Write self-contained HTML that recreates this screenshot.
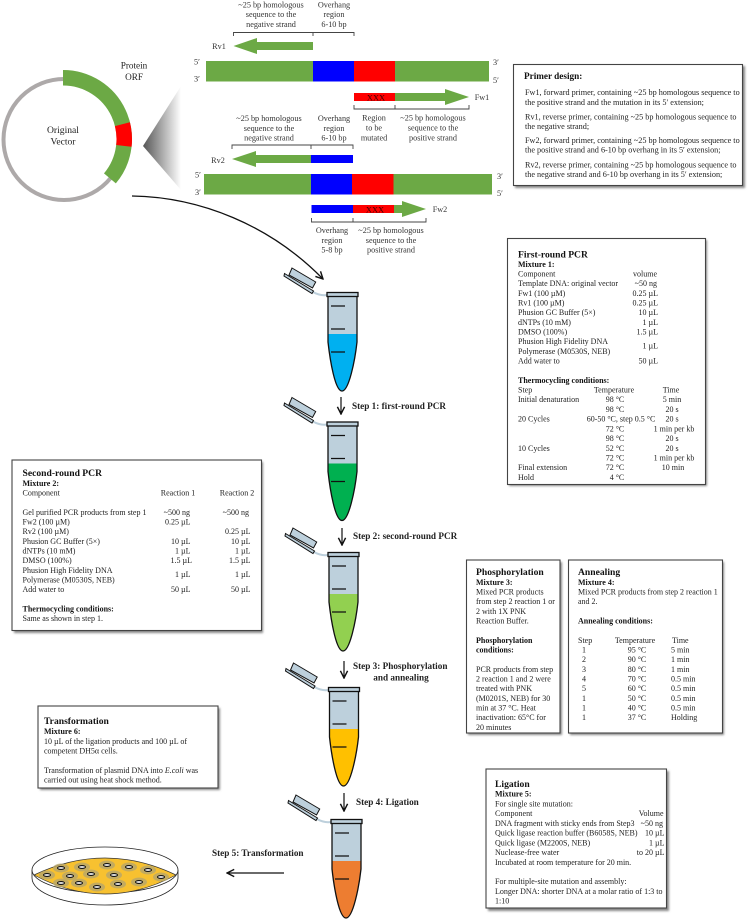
<!DOCTYPE html>
<html><head><meta charset="utf-8">
<style>
html,body{margin:0;padding:0;background:#fff;width:750px;height:920px;overflow:hidden}
svg{display:block}
text{font-family:"Liberation Serif",serif;font-size:8px;fill:#222}
.b{font-weight:bold;fill:#111}
.h{font-weight:bold;font-size:9.6px;fill:#111}
.s{font-weight:bold;font-size:9.2px;fill:#222}
.m{text-anchor:middle}
.e{text-anchor:end}
.l{font-size:8.2px;fill:#333}
.c{font-size:8.2px;fill:#333;text-anchor:middle}
.p{font-size:8.2px}
.br{fill:none;stroke:#444;stroke-width:.9}
.box{fill:#fff;stroke:#444;stroke-width:1.1}
.sh{fill:#888;filter:url(#bl)}
</style></head><body>
<svg width="750" height="920" viewBox="0 0 750 920" xmlns="http://www.w3.org/2000/svg">
<defs>
<filter id="bl" x="-10%" y="-10%" width="120%" height="120%"><feGaussianBlur stdDeviation="1"/></filter>
<linearGradient id="cone" x1="0" x2="1" y1="0" y2="0"><stop offset="0" stop-color="#555"/><stop offset="1" stop-color="#fff"/></linearGradient>
<clipPath id="tc"><path d="M328 297L328 342C330 360 335 391 342 391C349 391 355 360 357 342L357 297Z"/></clipPath>
<g id="tube">
<path d="M313 292Q320 296 327 295" fill="none" stroke="#BDD0DC" stroke-width="2"/>
<polygon points="292,268 315.7,282 312.5,288 289,275" fill="#BDD0DC" stroke="#111" stroke-width="1"/>
<polygon points="284.5,273.5 313.5,291 312,293.5 284,276" fill="#BDD0DC" stroke="#111" stroke-width="1"/>
<path d="M328 297L328 342C330 360 335 391 342 391C349 391 355 360 357 342L357 297Z" fill="#BDD0DC"/>
</g>
<g id="tubetop">
<path d="M331 306H345M331 329H345M331 352H345" stroke="#111" stroke-width="1.2" fill="none"/>
<path d="M328 297L328 342C330 360 335 391 342 391C349 391 355 360 357 342L357 297" fill="none" stroke="#111" stroke-width="1.3"/>
<rect x="327" y="292.5" width="31" height="4" fill="#BDD0DC" stroke="#111" stroke-width="1.3"/>
</g>
<marker id="ah" viewBox="0 0 10 10" refX="9" refY="5" markerWidth="9" markerHeight="9" orient="auto" markerUnits="userSpaceOnUse"><path d="M1 1L9 5L1 9" fill="none" stroke="#111" stroke-width="1.6"/></marker>
</defs>

<!-- plasmid -->
<circle cx="64" cy="139.5" r="60.5" fill="none" stroke="#ADA9A9" stroke-width="4"/>
<path d="M63 77.75A61.25 61.25 0 0 1 109.9 178.4" fill="none" stroke="#6CA945" stroke-width="15.5"/>
<path d="M122.4 124.2A61.25 61.25 0 0 1 123.9 145.9" fill="none" stroke="#FF0000" stroke-width="15.5"/>
<text x="134" y="68.5" style="font-size:9.2px" class="m">Protein</text>
<text x="134" y="80" style="font-size:9.2px" class="m">ORF</text>
<text x="63" y="133" style="font-size:9.6px" class="m">Original</text>
<text x="63" y="144.5" style="font-size:9.6px" class="m">Vector</text>
<polygon points="143,146 181,86 181,190" fill="url(#cone)"/>
<path d="M132 196C200 197 270 225 323 279" fill="none" stroke="#111" stroke-width="1.3" marker-end="url(#ah)"/>

<!-- strand 1 -->
<rect x="206" y="61" width="283" height="20.5" fill="#6CA945"/>
<rect x="313" y="61" width="41" height="20.5" fill="#0000FF"/>
<rect x="354" y="61" width="41" height="20.5" fill="#FF0000"/>
<text class="l" x="194" y="64.5">5′</text><text class="l" x="194" y="81.5">3′</text>
<text class="l" x="493" y="65">3′</text><text class="l" x="493" y="83">5′</text>
<polygon points="233.5,46 257,38 257,42 313,42 313,50 257,50 257,54" fill="#6CA945"/>
<text class="c" x="219" y="49">Rv1</text>
<path class="br" d="M233.5 36V32.5H354V36M313 32.5V36"/>
<text class="c" x="271" y="7.5">~25 bp homologous</text>
<text class="c" x="271" y="17">sequence to the</text>
<text class="c" x="271" y="27">negative strand</text>
<text class="c" x="334" y="7.5">Overhang</text>
<text class="c" x="334" y="17">region</text>
<text class="c" x="334" y="27">6-10 bp</text>
<rect x="354" y="93" width="41" height="8" fill="#FF0000"/>
<text class="m" x="376" y="100.5" style="fill:#400000;font-size:8.4px">XXX</text>
<polygon points="395,93 445,93 445,89 469,97 445,105 445,101 395,101" fill="#6CA945"/>
<text class="c" x="482" y="100">Fw1</text>
<path class="br" d="M354 105V109H469V105M395 109V105"/>
<text class="c" x="374" y="120.5">Region</text>
<text class="c" x="374" y="130.5">to be</text>
<text class="c" x="374" y="140.5">mutated</text>
<text class="c" x="433" y="120.5">~25 bp homologous</text>
<text class="c" x="433" y="130.5">sequence to the</text>
<text class="c" x="433" y="140.5">positive strand</text>

<!-- strand 2 -->
<text class="c" x="269" y="121">~25 bp homologous</text>
<text class="c" x="269" y="131">sequence to the</text>
<text class="c" x="269" y="140.5">negative strand</text>
<text class="c" x="334" y="121">Overhang</text>
<text class="c" x="334" y="131">region</text>
<text class="c" x="334" y="140.5">6-10 bp</text>
<path class="br" d="M232 149V145H353V149M311 145V149"/>
<polygon points="232,159 256,151 256,155 311,155 311,163 256,163 256,167" fill="#6CA945"/>
<rect x="311" y="155" width="42" height="8" fill="#0000FF"/>
<text class="c" x="218" y="163">Rv2</text>
<rect x="204" y="174" width="288" height="20.5" fill="#6CA945"/>
<rect x="311" y="174" width="41" height="20.5" fill="#0000FF"/>
<rect x="352" y="174" width="41.5" height="20.5" fill="#FF0000"/>
<text class="l" x="195" y="177.5">5′</text><text class="l" x="195" y="195">3′</text>
<text class="l" x="497" y="179">3′</text><text class="l" x="497" y="196">5′</text>
<rect x="311.5" y="205" width="41.5" height="8" fill="#0000FF"/>
<rect x="353" y="205" width="41" height="8" fill="#FF0000"/>
<text class="m" x="375" y="212.5" style="fill:#400000;font-size:8.4px">XXX</text>
<polygon points="394,205 402,205 402,201 426,209 402,217 402,213 394,213" fill="#6CA945"/>
<text class="c" x="440" y="212">Fw2</text>
<path class="br" d="M311.5 218V222H426V218M353 222V218"/>
<text class="c" x="332" y="233">Overhang</text>
<text class="c" x="332" y="243">region</text>
<text class="c" x="332" y="252.5">5-8 bp</text>
<text class="c" x="391" y="233">~25 bp homologous</text>
<text class="c" x="391" y="243">sequence to the</text>
<text class="c" x="391" y="252.5">positive strand</text>

<!-- primer box -->
<rect class="sh" x="515" y="66" width="230" height="122"/>
<rect class="box" x="513.5" y="64.5" width="229" height="121"/>
<text class="h" x="524" y="79" style="font-size:9.2px">Primer design:</text>
<text class="p" x="525" y="95">Fw1, forward primer, containing ~25 bp homologous sequence to</text>
<text class="p" x="525" y="105">the positive strand and the mutation in its 5′ extension;</text>
<text class="p" x="525" y="119.5">Rv1, reverse primer, containing ~25 bp homologous sequence to</text>
<text class="p" x="525" y="129">the negative strand;</text>
<text class="p" x="525" y="143">Fw2, forward primer, containing ~25 bp homologous sequence to</text>
<text class="p" x="525" y="152.5">the positive strand and 6-10 bp overhang in its 5′ extension;</text>
<text class="p" x="525" y="167.5">Rv2, reverse primer, containing ~25 bp homologous sequence to</text>
<text class="p" x="525" y="177">the negative strand and 6-10 bp overhang in its 5′ extension;</text>

<!-- first round -->
<rect class="sh" x="509" y="240" width="198" height="246"/>
<rect class="box" x="507.5" y="238.5" width="198" height="246"/>
<text class="h" x="518" y="257.5">First-round PCR</text>
<text class="b" x="518" y="266.8">Mixture 1:</text>
<text x="518" y="276.5">Component</text><text class="e" x="657" y="276.5">volume</text>
<text x="518" y="286.2">Template DNA: original vector</text><text class="e" x="657" y="286.2">~50 ng</text>
<text x="518" y="295.8">Fw1 (100 µM)</text><text class="e" x="658" y="295.8">0.25 µL</text>
<text x="518" y="305.5">Rv1 (100 µM)</text><text class="e" x="658" y="305.5">0.25 µL</text>
<text x="518" y="315.2">Phusion GC Buffer (5×)</text><text class="e" x="658" y="315.2">10 µL</text>
<text x="518" y="324.8">dNTPs (10 mM)</text><text class="e" x="658" y="324.8">1 µL</text>
<text x="518" y="334.5">DMSO (100%)</text><text class="e" x="658" y="334.5">1.5 µL</text>
<text x="518" y="344.2">Phusion High Fidelity DNA</text>
<text x="518" y="353.8">Polymerase (M0530S, NEB)</text><text class="e" x="658" y="348.5">1 µL</text>
<text x="518" y="363.5">Add water to</text><text class="e" x="658" y="363.5">50 µL</text>
<text class="b" x="518" y="382.8">Thermocycling conditions:</text>
<text x="518" y="392.5">Step</text><text class="m" x="614" y="392.5">Temperature</text><text class="m" x="671" y="392.5">Time</text>
<text x="518" y="402.2">Initial denaturation</text><text class="m" x="615" y="402.2">98 °C</text><text class="m" x="672" y="402.2">5 min</text>
<text class="m" x="615" y="411.8">98 °C</text><text class="m" x="672" y="411.8">20 s</text>
<text x="518" y="421.5">20 Cycles</text><text class="m" x="621" y="421.5">60-50 °C, step 0.5 °C</text><text class="m" x="672" y="421.5">20 s</text>
<text class="m" x="615" y="431.5">72 °C</text><text class="m" x="674" y="431.5">1 min per kb</text>
<text class="m" x="615" y="441.2">98 °C</text><text class="m" x="672" y="441.2">20 s</text>
<text x="518" y="450.8">10 Cycles</text><text class="m" x="615" y="450.8">52 °C</text><text class="m" x="672" y="450.8">20 s</text>
<text class="m" x="615" y="460.5">72 °C</text><text class="m" x="674" y="460.5">1 min per kb</text>
<text x="518" y="470.2">Final extension</text><text class="m" x="615" y="470.2">72 °C</text><text class="m" x="673" y="470.2">10 min</text>
<text x="518" y="479.8">Hold</text><text class="m" x="617" y="479.8">4 °C</text>

<!-- second round -->
<rect class="sh" x="14" y="462" width="249" height="171"/>
<rect class="box" x="12" y="460" width="249.5" height="170.5"/>
<text class="h" x="22.5" y="476">Second-round PCR</text>
<text class="b" x="22.5" y="485.8">Mixture 2:</text>
<text x="22.5" y="495.5">Component</text><text class="m" x="178" y="495.5">Reaction 1</text><text class="m" x="237" y="495.5">Reaction 2</text>
<text x="22.5" y="514.8">Gel purified PCR products from step 1</text><text class="e" x="190" y="514.8">~500 ng</text><text class="e" x="249" y="514.8">~500 ng</text>
<text x="22.5" y="524.5">Fw2 (100 µM)</text><text class="e" x="190.5" y="524.5">0.25 µL</text>
<text x="22.5" y="534.2">Rv2 (100 µM)</text><text class="e" x="250.5" y="534.2">0.25 µL</text>
<text x="22.5" y="543.8">Phusion GC Buffer (5×)</text><text class="e" x="190.5" y="543.8">10 µL</text><text class="e" x="250.5" y="543.8">10 µL</text>
<text x="22.5" y="553.5">dNTPs (10 mM)</text><text class="e" x="190.5" y="553.5">1 µL</text><text class="e" x="250.5" y="553.5">1 µL</text>
<text x="22.5" y="562.8">DMSO (100%)</text><text class="e" x="192" y="562.8">1.5 µL</text><text class="e" x="250.5" y="562.8">1.5 µL</text>
<text x="22.5" y="572.8">Phusion High Fidelity DNA</text>
<text x="22.5" y="582.5">Polymerase (M0530S, NEB)</text><text class="e" x="190.5" y="576.8">1 µL</text><text class="e" x="250.5" y="576.8">1 µL</text>
<text x="22.5" y="592.2">Add water to</text><text class="e" x="190.5" y="592.2">50 µL</text><text class="e" x="250.5" y="592.2">50 µL</text>
<text class="b" x="22.5" y="611.5">Thermocycling conditions:</text>
<text x="22.5" y="621.2">Same as shown in step 1.</text>

<!-- phosphorylation -->
<rect class="sh" x="468" y="562" width="94" height="173"/>
<rect class="box" x="466.5" y="560" width="93.5" height="173"/>
<text class="h" x="476" y="575.2">Phosphorylation</text>
<text class="b" x="476" y="584.8">Mixture 3:</text>
<text x="476" y="594.5">Mixed PCR products</text>
<text x="476" y="604.2">from step 2 reaction 1 or</text>
<text x="476" y="613.8">2 with 1X PNK</text>
<text x="476" y="623.5">Reaction Buffer.</text>
<text class="b" x="476" y="642.8">Phosphorylation</text>
<text class="b" x="476" y="652.5">conditions:</text>
<text x="476" y="671.8">PCR products from step</text>
<text x="476" y="681.5">2 reaction 1 and 2 were</text>
<text x="476" y="691.2">treated with PNK</text>
<text x="476" y="700.8">(M0201S, NEB) for 30</text>
<text x="476" y="710.5">min at 37 °C. Heat</text>
<text x="476" y="720.2">inactivation: 65°C for</text>
<text x="476" y="729.8">20 minutes</text>

<!-- annealing -->
<rect class="sh" x="570" y="562" width="154" height="173"/>
<rect class="box" x="568.5" y="560" width="154" height="173"/>
<text class="h" x="578" y="575.2">Annealing</text>
<text class="b" x="578" y="584.8">Mixture 4:</text>
<text x="578" y="594.5">Mixed PCR products from step 2 reaction 1</text>
<text x="578" y="604.2">and 2.</text>
<text class="b" x="578" y="623.5">Annealing conditions:</text>
<text x="578" y="642.8">Step</text><text class="m" x="635" y="642.8">Temperature</text><text x="672" y="642.8">Time</text>
<text x="582" y="652.5">1</text><text class="m" x="637" y="652.5">95 °C</text><text x="671" y="652.5">5 min</text>
<text x="582" y="662.2">2</text><text class="m" x="637" y="662.2">90 °C</text><text x="671" y="662.2">1 min</text>
<text x="582" y="671.8">3</text><text class="m" x="637" y="671.8">80 °C</text><text x="671" y="671.8">1 min</text>
<text x="582" y="681.5">4</text><text class="m" x="637" y="681.5">70 °C</text><text x="671" y="681.5">0.5 min</text>
<text x="582" y="691.2">5</text><text class="m" x="637" y="691.2">60 °C</text><text x="671" y="691.2">0.5 min</text>
<text x="582" y="700.8">1</text><text class="m" x="637" y="700.8">50 °C</text><text x="671" y="700.8">0.5 min</text>
<text x="582" y="710.5">1</text><text class="m" x="637" y="710.5">40 °C</text><text x="671" y="710.5">0.5 min</text>
<text x="582" y="720.2">1</text><text class="m" x="637" y="720.2">37 °C</text><text x="671" y="720.2">Holding</text>

<!-- ligation -->
<rect class="sh" x="488" y="771" width="181" height="140"/>
<rect class="box" x="486" y="769" width="180.5" height="139"/>
<text class="h" x="495" y="787">Ligation</text>
<text class="b" x="495" y="796.5">Mixture 5:</text>
<text x="495" y="806.5">For single site mutation:</text>
<text x="495" y="816.2">Component</text><text class="e" x="663.5" y="816.2">Volume</text>
<text x="495" y="825.8">DNA fragment with sticky ends from Step3</text><text class="e" x="663" y="825.8">~50 ng</text>
<text x="495" y="835.5">Quick ligase reaction buffer (B6058S, NEB)</text><text class="e" x="664.5" y="835.5">10 µL</text>
<text x="495" y="845.5">Quick ligase (M2200S, NEB)</text><text class="e" x="664.5" y="845.5">1 µL</text>
<text x="495" y="855.2">Nuclease-free water</text><text class="e" x="664.5" y="855.2">to 20 µL</text>
<text x="495" y="864.8">Incubated at room temperature for 20 min.</text>
<text x="495" y="884.2">For multiple-site mutation and assembly:</text>
<text x="495" y="893.8">Longer DNA: shorter DNA at a molar ratio of 1:3 to</text>
<text x="495" y="903.5">1:10</text>

<!-- transformation -->
<rect class="sh" x="40" y="708" width="180" height="82"/>
<rect class="box" x="38" y="706" width="180" height="82"/>
<text class="h" x="44" y="724">Transformation</text>
<text class="b" x="44" y="734.2">Mixture 6:</text>
<text x="44" y="743.8">10 µL of the ligation products and 100 µL of</text>
<text x="44" y="753.5">competent DH5α cells.</text>
<text x="44" y="772.8">Transformation of plasmid DNA into <tspan font-style="italic">E.coli</tspan> was</text>
<text x="44" y="782.5">carried out using heat shock method.</text>

<!-- tubes -->
<g transform="translate(0,0)"><use href="#tube"/><rect x="320" y="334" width="45" height="60" fill="#00B0F0" clip-path="url(#tc)"/><use href="#tubetop"/></g>
<g transform="translate(0,129.5)"><use href="#tube"/><rect x="320" y="334" width="45" height="60" fill="#00B050" clip-path="url(#tc)"/><use href="#tubetop"/></g>
<g transform="translate(1,260)"><use href="#tube"/><rect x="320" y="334" width="45" height="60" fill="#92D050" clip-path="url(#tc)"/><use href="#tubetop"/></g>
<g transform="translate(1.5,395)"><use href="#tube"/><rect x="320" y="334" width="45" height="60" fill="#FFC000" clip-path="url(#tc)"/><use href="#tubetop"/></g>
<g transform="translate(4,527)"><use href="#tube"/><rect x="320" y="334" width="45" height="60" fill="#ED7D31" clip-path="url(#tc)"/><use href="#tubetop"/></g>

<!-- step arrows -->
<path d="M341 397V414" stroke="#111" stroke-width="1.2" marker-end="url(#ah)"/>
<text class="s" x="352" y="409">Step 1: first-round PCR</text>
<path d="M342 528V545" stroke="#111" stroke-width="1.2" marker-end="url(#ah)"/>
<text class="s" x="353" y="539">Step 2: second-round PCR</text>
<path d="M344 661V678" stroke="#111" stroke-width="1.2" marker-end="url(#ah)"/>
<text class="s" x="353" y="669">Step 3: Phosphorylation</text>
<text class="s m" x="401" y="680.5">and annealing</text>
<path d="M344 793V811" stroke="#111" stroke-width="1.2" marker-end="url(#ah)"/>
<text class="s" x="356" y="805">Step 4: Ligation</text>
<text class="s" x="212" y="856">Step 5: Transformation</text>
<path d="M284 873H227" stroke="#111" stroke-width="1.2" marker-end="url(#ah)"/>

<!-- petri -->
<path d="M32 870V878C32 893 65 905 105 905C145 905 178 893 178 878V870" fill="#fff" stroke="#222" stroke-width=".8"/>
<ellipse cx="105" cy="870" rx="73" ry="23" fill="#fff" stroke="#222" stroke-width=".8"/>
<path d="M34 875Q105 841 176 875Q105 913 34 875Z" fill="#F7C130" stroke="#333" stroke-width=".7"/>
<g fill="#B7A66B" opacity=".8">
<ellipse cx="61" cy="868" rx="8" ry="4.5"/><ellipse cx="82" cy="867" rx="8" ry="4.5"/><ellipse cx="107" cy="865" rx="8" ry="4.5"/><ellipse cx="129" cy="867" rx="8" ry="4.5"/><ellipse cx="148" cy="870" rx="8" ry="4.5"/><ellipse cx="47" cy="875" rx="8" ry="4.5"/><ellipse cx="70" cy="876" rx="8" ry="4.5"/><ellipse cx="91" cy="874" rx="8" ry="4.5"/><ellipse cx="114" cy="875" rx="8" ry="4.5"/><ellipse cx="161" cy="877" rx="8" ry="4.5"/><ellipse cx="61" cy="883" rx="8" ry="4.5"/><ellipse cx="79" cy="883" rx="8" ry="4.5"/><ellipse cx="97" cy="887" rx="8" ry="4.5"/><ellipse cx="118" cy="884" rx="8" ry="4.5"/><ellipse cx="139" cy="882" rx="8" ry="4.5"/>
</g>
<g fill="#ddd" stroke="#111" stroke-width="1">
<ellipse cx="61" cy="868" rx="3.5" ry="1.5"/><ellipse cx="82" cy="867" rx="3.5" ry="1.5"/><ellipse cx="107" cy="865" rx="3.5" ry="1.5"/><ellipse cx="129" cy="867" rx="3.5" ry="1.5"/><ellipse cx="148" cy="870" rx="3.5" ry="1.5"/><ellipse cx="47" cy="875" rx="3.5" ry="1.5"/><ellipse cx="70" cy="876" rx="3.5" ry="1.5"/><ellipse cx="91" cy="874" rx="3.5" ry="1.5"/><ellipse cx="114" cy="875" rx="3.5" ry="1.5"/><ellipse cx="161" cy="877" rx="3.5" ry="1.5"/><ellipse cx="61" cy="883" rx="3.5" ry="1.5"/><ellipse cx="79" cy="883" rx="3.5" ry="1.5"/><ellipse cx="97" cy="887" rx="3.5" ry="1.5"/><ellipse cx="118" cy="884" rx="3.5" ry="1.5"/><ellipse cx="139" cy="882" rx="3.5" ry="1.5"/>
</g>
</svg>
</body></html>
